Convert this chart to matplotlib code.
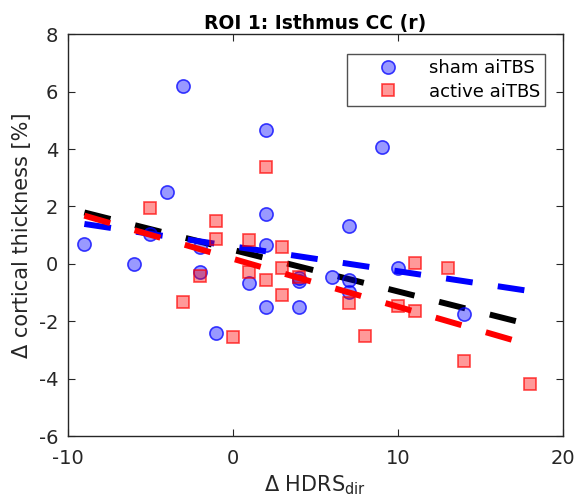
import numpy as np
import matplotlib
matplotlib.use("Agg")
import matplotlib.pyplot as plt

plt.rcParams['axes.unicode_minus'] = False

# sham aiTBS
sham_x = [-9, -6, -5, -4, -3, -2, -2, -1, 1, 2, 2, 2, 2, 4, 4, 4, 6, 7, 7, 7, 9, 10, 14]
sham_y = [0.7, 0.0, 1.05, 2.5, 6.18, 0.58, -0.29, -2.42, -0.65, 4.66, 1.74, 0.65, -1.51,
          -0.5, -0.6, -1.52, -0.47, 1.33, -0.55, -0.98, 4.07, -0.13, -1.73]

# active aiTBS
active_x = [-5, -3, -2, -1, -1, 0, 1, 1, 2, 2, 3, 3, 3, 4, 7, 8, 10, 11, 11, 13, 14, 18]
active_y = [1.93, -1.34, -0.42, 1.5, 0.85, -2.54, 0.84, -0.27, 3.37, -0.56, 0.58, -0.15,
            -1.1, -0.45, -1.37, -2.5, -1.48, 0.03, -1.64, -0.13, -3.4, -4.2]

# regression lines (end points)
fit_x = [-9, 18]
fit_sham = [1.39, -0.95]
fit_all = [1.79, -2.12]
fit_active = [1.68, -2.83]

fig = plt.figure(figsize=(5.8, 5.03), dpi=100)
ax = fig.add_axes([0.117, 0.133, 0.854, 0.799])

ax.plot(sham_x, sham_y, 'o', ms=9.5, mfc=(0, 0, 1, 0.4), mec=(0, 0, 1, 0.75), mew=1.2,
        label='sham aiTBS', zorder=2)
ax.plot(active_x, active_y, 's', ms=8.3, mfc=(1, 0, 0, 0.4), mec=(1, 0, 0, 0.7), mew=1.2,
        label='active aiTBS', zorder=3)

# drawing order: all-subject fit lowest, then each group's fit above its markers
for yy, c, z in [(fit_all, 'k', 1.5), (fit_sham, 'b', 2.5), (fit_active, 'r', 3.5)]:
    ln, = ax.plot(fit_x, yy, color=c, lw=4.3, solid_capstyle='butt', zorder=z)
    ln.set_dashes((4.5, 4.25))
    ln.set_dash_capstyle('butt')

ax.set_xlim(-10, 20)
ax.set_ylim(-6, 8)
ax.set_xticks([-10, 0, 10, 20])
ax.set_yticks(np.arange(-6, 9, 2))
ax.tick_params(direction='in', top=True, right=True, labelsize=14, length=5,
               colors='#262626')
ax.tick_params(axis='x', pad=9)
ax.tick_params(axis='y', pad=7)
for s in ax.spines.values():
    s.set_color('#262626')
    s.set_linewidth(1.0)

ax.set_xlabel('Δ HDRS$_{\\rm dir}$', fontsize=15, color='#262626', labelpad=4)
ax.set_ylabel('Δ cortical thickness [%]', fontsize=15, color='#262626', labelpad=5)
ax.set_title('ROI 1: Isthmus CC (r)', fontsize=13.5, fontweight='bold', pad=4)

leg = ax.legend(loc='upper right', fontsize=13, frameon=True, fancybox=False,
                borderpad=0.3, labelspacing=0.3, handlelength=3.9, handletextpad=0.3,
                borderaxespad=0, bbox_to_anchor=(0.964, 0.951))
leg.get_frame().set_edgecolor('#262626')
leg.get_frame().set_linewidth(1.0)

fig.savefig('out.png', dpi=100)
